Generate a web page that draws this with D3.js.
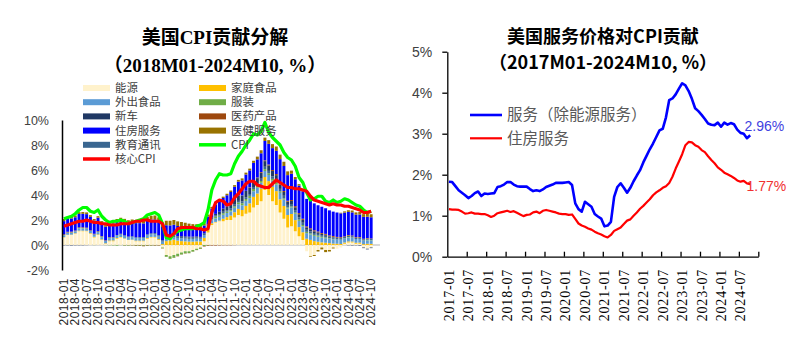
<!DOCTYPE html>
<html>
<head>
<meta charset="utf-8">
<script src="https://cdn.jsdelivr.net/npm/d3@7"></script>
<style>
  body { margin: 0; background: #fff; }
  svg { display: block; }
</style>
</head>
<body>
<svg id="chart" width="800" height="350"></svg>
<script>
// 左图：美国CPI贡献分解 2018M01-2024M10
const monthsL = [];
for (let y = 2018; y <= 2024; y++)
  for (let m = 1; m <= 12; m++)
    if (!(y === 2024 && m > 10)) monthsL.push(`${y}-${String(m).padStart(2, "0")}`);

const tickLabelsL = [
  "2018-01","2018-04","2018-07","2018-10","2019-01","2019-04","2019-07","2019-10",
  "2020-01","2020-04","2020-07","2020-10","2021-01","2021-04","2021-07","2021-10",
  "2022-01","2022-04","2022-07","2022-10","2023-01","2023-04","2023-07","2023-10",
  "2024-01","2024-04","2024-07","2024-10"
];
const yTicksL = [-2, 0, 2, 4, 6, 8, 10];

const energy = [
  0.6,0.8,0.8,0.9,1.1,1.1,1.1,0.9,0.6,0.8,0.4,0.1,
  0.3,0.3,0.5,0.6,0.5,0.4,0.4,0.3,0.3,0.3,0.5,0.6,
  0.6,0.4,-0.2,-0.8,-0.9,-0.8,-0.7,-0.6,-0.5,-0.5,-0.4,-0.3,
  -0.2,0.3,1.0,1.6,1.8,1.9,1.9,2.0,2.0,2.2,2.4,2.3,
  2.5,2.6,3.0,3.2,3.5,4.4,4.0,3.5,3.2,2.6,2.1,1.4,
  1.5,1.1,0.7,0.4,-0.5,-0.9,-0.8,-0.4,-0.2,-0.4,-0.4,-0.2,
  -0.3,-0.2,0.1,0.2,0.2,0.1,0.1,-0.2,-0.3,-0.2
];
const foodHome = [
  0.03,0.02,0.03,0.04,0.05,0.05,0.04,0.05,0.06,0.05,0.05,0.04,
  0.06,0.07,0.06,0.04,0.03,0.01,0.03,0.05,0.05,0.05,0.06,0.05,
  0.05,0.07,0.07,0.31,0.36,0.42,0.35,0.31,0.29,0.27,0.27,0.29,
  0.28,0.27,0.25,0.14,0.05,0.05,0.20,0.23,0.35,0.42,0.49,0.50,
  0.63,0.73,0.85,0.92,1.01,1.04,1.11,1.15,1.11,1.05,1.02,1.00,
  0.98,0.89,0.73,0.62,0.50,0.41,0.31,0.26,0.21,0.18,0.15,0.11,
  0.10,0.08,0.10,0.09,0.08,0.08,0.09,0.07,0.10,0.09
];
const foodAway = [
  0.15,0.16,0.16,0.16,0.17,0.17,0.17,0.17,0.17,0.18,0.18,0.18,
  0.19,0.19,0.19,0.19,0.19,0.19,0.20,0.20,0.20,0.20,0.20,0.21,
  0.21,0.21,0.20,0.19,0.18,0.20,0.22,0.22,0.22,0.22,0.22,0.22,
  0.22,0.22,0.23,0.25,0.28,0.30,0.32,0.33,0.34,0.36,0.37,0.38,
  0.40,0.42,0.45,0.46,0.47,0.48,0.49,0.50,0.52,0.52,0.51,0.52,
  0.52,0.51,0.50,0.48,0.45,0.43,0.42,0.40,0.38,0.36,0.35,0.35,
  0.34,0.33,0.32,0.31,0.30,0.30,0.29,0.28,0.27,0.26
];
const apparel = [
  0.02,0.01,0.02,0.01,0.03,0.03,0.02,0.01,-0.01,0.01,0.02,-0.01,
  -0.02,-0.03,-0.05,-0.01,-0.04,-0.04,-0.02,-0.05,-0.05,-0.06,-0.05,-0.04,
  -0.03,-0.02,-0.06,-0.14,-0.20,-0.22,-0.19,-0.16,-0.17,-0.15,-0.13,-0.10,
  -0.10,-0.08,-0.04,0.06,0.14,0.10,0.12,0.11,0.10,0.12,0.14,0.16,
  0.15,0.18,0.18,0.15,0.14,0.15,0.14,0.14,0.16,0.11,0.10,0.08,
  0.08,0.09,0.10,0.10,0.10,0.09,0.08,0.09,0.07,0.07,0.03,0.03,
  0.00,0.02,0.01,0.04,0.02,0.00,0.01,0.01,0.05,0.03
];
const newCars = [
  -0.02,-0.02,-0.03,-0.02,-0.02,-0.02,-0.01,0.00,0.01,0.01,0.01,0.01,
  0.02,0.02,0.02,0.03,0.02,0.03,0.02,0.02,0.02,0.01,0.01,0.00,
  0.00,0.01,0.01,0.01,0.00,0.02,0.03,0.06,0.07,0.07,0.08,0.08,
  0.05,0.05,0.05,0.06,0.10,0.19,0.25,0.30,0.35,0.38,0.42,0.48,
  0.50,0.50,0.48,0.45,0.48,0.45,0.44,0.43,0.40,0.35,0.30,0.25,
  0.24,0.23,0.24,0.23,0.19,0.17,0.14,0.12,0.10,0.08,0.05,0.04,
  0.03,0.02,0.00,-0.02,-0.03,-0.02,-0.04,-0.05,-0.05,-0.05
];
const medProducts = [
  0.06,0.06,0.06,0.05,0.05,0.05,0.05,0.04,0.04,0.04,0.03,0.03,
  0.03,0.02,0.00,0.00,-0.01,-0.01,-0.02,-0.03,-0.03,-0.04,-0.03,-0.02,
  -0.03,-0.03,-0.02,-0.01,-0.01,-0.01,-0.02,-0.01,-0.02,-0.01,-0.01,-0.01,
  -0.02,-0.04,-0.04,-0.04,-0.04,-0.03,-0.02,-0.02,-0.02,-0.01,0.00,0.01,
  0.02,0.04,0.05,0.05,0.06,0.06,0.07,0.08,0.09,0.08,0.08,0.08,
  0.08,0.09,0.09,0.09,0.08,0.08,0.08,0.07,0.07,0.07,0.07,0.07,
  0.06,0.06,0.05,0.05,0.05,0.05,0.05,0.04,0.04,0.04
];
const shelterL = [
  1.05,1.05,1.05,1.06,1.07,1.07,1.08,1.07,1.05,1.07,1.07,1.08,
  1.08,1.10,1.10,1.10,1.12,1.10,1.12,1.13,1.12,1.10,1.10,1.10,
  1.10,1.10,1.05,0.95,0.90,0.85,0.80,0.78,0.75,0.72,0.70,0.68,
  0.65,0.62,0.63,0.68,0.75,0.80,0.85,0.90,0.98,1.05,1.12,1.20,
  1.30,1.35,1.40,1.45,1.50,1.55,1.65,1.75,1.85,1.95,2.00,2.05,
  2.10,2.15,2.20,2.20,2.20,2.20,2.15,2.10,2.10,2.05,2.00,1.95,
  1.95,1.90,1.90,1.85,1.85,1.80,1.80,1.75,1.70,1.70
];
const medServices = [
  0.17,0.16,0.16,0.15,0.15,0.15,0.14,0.14,0.13,0.13,0.13,0.13,
  0.15,0.17,0.18,0.18,0.19,0.20,0.22,0.24,0.25,0.28,0.30,0.30,
  0.31,0.32,0.33,0.36,0.37,0.38,0.37,0.35,0.34,0.32,0.30,0.29,
  0.22,0.18,0.16,0.14,0.12,0.11,0.11,0.12,0.12,0.13,0.14,0.16,
  0.15,0.14,0.17,0.22,0.24,0.27,0.30,0.32,0.35,0.36,0.34,0.30,
  0.25,0.18,0.12,0.06,0.00,-0.05,-0.08,-0.12,-0.15,-0.17,-0.12,-0.08,
  0.00,0.05,0.10,0.13,0.15,0.18,0.20,0.22,0.22,0.24
];
const eduComm = [
  0.00,0.01,0.00,0.00,0.01,0.02,0.01,0.01,0.02,0.02,0.02,0.02,
  0.03,0.03,0.03,0.04,0.04,0.05,0.05,0.05,0.06,0.07,0.08,0.08,
  0.09,0.10,0.11,0.12,0.13,0.13,0.12,0.12,0.11,0.11,0.10,0.10,
  0.10,0.10,0.11,0.12,0.12,0.12,0.12,0.11,0.12,0.13,0.13,0.14,
  0.14,0.15,0.16,0.17,0.18,0.19,0.19,0.20,0.20,0.21,0.21,0.21,
  0.20,0.20,0.19,0.18,0.17,0.16,0.15,0.14,0.13,0.13,0.12,0.12,
  0.12,0.12,0.11,0.11,0.11,0.10,0.10,0.10,0.10,0.10
];
const cpi = [
  2.1,2.2,2.3,2.5,2.8,3.0,3.0,2.7,2.6,2.8,2.3,2.0,
  1.8,1.9,1.9,2.0,1.9,1.7,1.8,1.9,2.0,2.1,2.4,2.5,
  2.6,2.4,1.7,0.6,0.5,0.9,1.1,1.2,1.3,1.3,1.3,1.5,
  1.6,1.8,2.8,4.4,5.2,5.7,5.6,5.6,5.7,6.5,7.1,7.5,
  8.0,8.4,8.9,8.8,9.1,9.8,9.0,8.6,8.3,8.0,7.4,7.0,
  6.8,6.3,5.4,5.0,4.2,3.6,3.7,3.9,3.9,3.5,3.4,3.6,
  3.4,3.5,3.7,3.6,3.4,3.2,3.1,2.8,2.6,2.7
];
const coreCpi = [
  1.5,1.6,1.7,1.8,1.9,1.9,2.0,1.9,1.8,1.8,1.7,1.7,
  1.6,1.6,1.6,1.7,1.7,1.7,1.8,1.9,1.9,2.0,2.0,1.9,
  1.9,1.9,1.7,0.8,0.7,0.9,1.3,1.4,1.4,1.4,1.4,1.3,
  1.3,1.2,1.3,2.6,3.4,3.6,3.5,3.2,3.3,3.8,4.1,4.5,
  4.9,5.1,5.1,4.8,4.7,4.6,4.6,4.9,5.2,5.0,4.8,4.6,
  4.6,4.5,4.5,4.4,4.3,3.9,3.6,3.5,3.4,3.3,3.2,3.3,
  3.2,3.2,3.1,3.1,3.0,2.9,2.8,2.6,2.6,2.7
];

// 右图：美国服务价格对CPI贡献 2017M01-2024M10
const monthsR = [];
for (let y = 2017; y <= 2024; y++)
  for (let m = 1; m <= 12; m++) monthsR.push(`${y}-${String(m).padStart(2, "0")}`);

const tickLabelsR = [
  "2017-01","2017-07","2018-01","2018-07","2019-01","2019-07","2020-01","2020-07",
  "2021-01","2021-07","2022-01","2022-07","2023-01","2023-07","2024-01","2024-07"
];
const yTicksR = [0, 1, 2, 3, 4, 5];

const servicesExEnergy = [
  1.83,1.82,1.72,1.62,1.56,1.50,1.43,1.48,1.55,1.59,1.48,1.54,
  1.53,1.54,1.55,1.70,1.72,1.76,1.82,1.82,1.76,1.72,1.71,1.71,
  1.71,1.65,1.60,1.62,1.60,1.64,1.70,1.73,1.76,1.80,1.80,1.80,
  1.81,1.82,1.75,1.30,1.16,1.10,1.34,1.28,1.22,1.04,0.98,0.93,
  0.74,0.76,0.85,1.46,1.70,1.79,1.68,1.56,1.68,1.84,1.98,2.11,
  2.30,2.46,2.62,2.76,2.92,3.08,3.12,3.40,3.82,3.86,3.96,4.10,
  4.23,4.18,4.04,3.85,3.62,3.55,3.46,3.36,3.25,3.22,3.21,3.27,
  3.17,3.27,3.22,3.26,3.23,3.10,3.02,3.00,2.89,2.96
];
const shelterR = [
  1.16,1.15,1.15,1.14,1.10,1.05,1.06,1.08,1.05,1.05,1.04,1.04,
  1.01,0.97,1.00,1.06,1.08,1.10,1.12,1.09,1.11,1.07,1.03,0.99,
  1.02,1.03,1.08,1.10,1.06,1.12,1.14,1.12,1.10,1.08,1.05,1.04,
  1.04,1.02,1.03,0.92,0.81,0.76,0.73,0.69,0.66,0.61,0.57,0.54,
  0.50,0.47,0.53,0.63,0.67,0.71,0.80,0.88,0.91,1.00,1.08,1.17,
  1.24,1.32,1.40,1.50,1.57,1.62,1.68,1.72,1.80,1.95,2.15,2.32,
  2.50,2.72,2.80,2.79,2.72,2.68,2.60,2.55,2.45,2.36,2.28,2.18,
  2.12,2.05,2.01,1.97,1.92,1.86,1.83,1.85,1.79,1.77
];

const svg = d3.select("#chart");
svg.append("rect").attr("width", 800).attr("height", 350).attr("fill", "#fff");

const cjkSans  = "'Noto Sans CJK SC', 'Liberation Sans', sans-serif";
const cjkSerif = "'Liberation Serif', 'Noto Sans CJK SC', serif";

// ---------- 左图 ----------
const series = [
  { key: "能源",     values: energy,      color: "#FFF2CC" },
  { key: "家庭食品", values: foodHome,    color: "#FFC000" },
  { key: "外出食品", values: foodAway,    color: "#5B9BD5" },
  { key: "服装",     values: apparel,     color: "#70AD47" },
  { key: "教育通讯", values: eduComm,     color: "#3A6690" },
  { key: "新车",     values: newCars,     color: "#203864" },
  { key: "医药产品", values: medProducts, color: "#9E480E" },
  { key: "住房服务", values: shelterL,    color: "#0000FF" },
  { key: "医健服务", values: medServices, color: "#997300" }
];
const colorOf = Object.fromEntries(series.map(s => [s.key, s.color]));

const table = monthsL.map((m, i) => {
  const row = { month: m };
  series.forEach(s => row[s.key] = s.values[i]);
  return row;
});

const stacked = d3.stack()
  .keys(series.map(s => s.key))
  .offset(d3.stackOffsetDiverging)(table);

const xL = d3.scaleBand().domain(monthsL).range([62, 373]).paddingInner(0.22).paddingOuter(0.1);
const yL = d3.scaleLinear().domain([-2, 10]).range([270, 120]);

const gL = svg.append("g");

// 零线
gL.append("line")
  .attr("x1", 62).attr("x2", 380)
  .attr("y1", yL(0)).attr("y2", yL(0))
  .attr("stroke", "#D9D9D9").attr("stroke-width", 2);

gL.selectAll("g.layer")
  .data(stacked)
  .join("g")
  .attr("class", "layer")
  .attr("fill", d => colorOf[d.key])
  .selectAll("rect")
  .data(d => d)
  .join("rect")
  .attr("x", d => xL(d.data.month))
  .attr("width", xL.bandwidth())
  .attr("y", d => yL(Math.max(d[0], d[1])))
  .attr("height", d => Math.abs(yL(d[0]) - yL(d[1])));

const lineL = d3.line()
  .x((d, i) => xL(monthsL[i]) + xL.bandwidth() / 2)
  .y(d => yL(d));

gL.append("path").datum(cpi)
  .attr("d", lineL).attr("fill", "none")
  .attr("stroke", "#00FF00").attr("stroke-width", 3.2)
  .attr("stroke-linejoin", "round");
gL.append("path").datum(coreCpi)
  .attr("d", lineL).attr("fill", "none")
  .attr("stroke", "#FF0000").attr("stroke-width", 3.2)
  .attr("stroke-linejoin", "round");

const axL = gL.append("g")
  .attr("transform", "translate(62,0)")
  .call(d3.axisLeft(yL).tickValues(yTicksL).tickSize(0).tickPadding(13)
    .tickFormat(d => d + "%"));
axL.select(".domain").attr("stroke", "#000").attr("stroke-width", 1.5);
axL.selectAll("text")
  .attr("font-family", "'Liberation Sans', Arial, sans-serif")
  .attr("font-size", 12.5).attr("fill", "#404040");

gL.selectAll("text.xl")
  .data(tickLabelsL)
  .join("text")
  .attr("class", "xl")
  .attr("transform", d => `translate(${xL(d) + xL.bandwidth() / 2},278) rotate(-90)`)
  .attr("text-anchor", "end")
  .attr("dy", "0.35em")
  .attr("font-family", "'Liberation Sans', Arial, sans-serif")
  .attr("font-size", 12).attr("letter-spacing", 0.5)
  .attr("fill", "#262626")
  .text(d => d);

// 图例
const legendL = [
  { key: "能源", type: "rect" },     { key: "家庭食品", type: "rect" },
  { key: "外出食品", type: "rect" }, { key: "服装", type: "rect" },
  { key: "新车", type: "rect" },     { key: "医药产品", type: "rect" },
  { key: "住房服务", type: "rect" }, { key: "医健服务", type: "rect" },
  { key: "教育通讯", type: "rect" }, { key: "CPI", type: "line", color: "#00FF00" },
  { key: "核心CPI", type: "line", color: "#FF0000" }
];
const lg = gL.selectAll("g.lg")
  .data(legendL)
  .join("g")
  .attr("class", "lg")
  .attr("transform", (d, i) => `translate(${i % 2 ? 199 : 83},${88 + Math.floor(i / 2) * 14.2})`);
lg.filter(d => d.type === "rect").append("rect")
  .attr("x", 0).attr("y", -3).attr("width", 27).attr("height", 6)
  .attr("fill", d => colorOf[d.key]);
lg.filter(d => d.type === "line").append("line")
  .attr("x1", 0).attr("x2", 27)
  .attr("stroke", d => d.color).attr("stroke-width", 3.5);
lg.append("text")
  .attr("x", 32).attr("dy", "0.35em")
  .attr("font-family", cjkSans).attr("font-size", 11.4).attr("fill", "#404040")
  .text(d => d.key);

gL.append("text")
  .attr("x", 215).attr("y", 37).attr("dy", "0.35em").attr("text-anchor", "middle")
  .attr("font-family", cjkSerif).attr("font-weight", "bold").attr("font-size", 19)
  .attr("fill", "#000").text("美国CPI贡献分解");
gL.append("text")
  .attr("x", 215).attr("y", 65).attr("dy", "0.35em").attr("text-anchor", "middle")
  .attr("font-family", cjkSerif).attr("font-weight", "bold").attr("font-size", 19)
  .attr("fill", "#000").text("（2018M01-2024M10, %）");

// ---------- 右图 ----------
const xR = d3.scaleBand().domain(monthsR).range([447.3, 758.3]);
const yR = d3.scaleLinear().domain([0, 5]).range([256.7, 51.7]);
const xTickR = d3.scaleLinear().domain([0, monthsR.length]).range([447.3, 758.3]);

const gR = svg.append("g");

const lineR = d3.line()
  .x((d, i) => xR(monthsR[i]) + xR.bandwidth() / 2)
  .y(d => yR(d));

gR.append("path").datum(shelterR)
  .attr("d", lineR).attr("fill", "none")
  .attr("stroke", "#FF0000").attr("stroke-width", 2.2)
  .attr("stroke-linejoin", "round");
gR.append("path").datum(servicesExEnergy)
  .attr("d", lineR).attr("fill", "none")
  .attr("stroke", "#0000FF").attr("stroke-width", 2.6)
  .attr("stroke-linejoin", "round");

const ayR = gR.append("g")
  .attr("transform", "translate(447.3,0)")
  .call(d3.axisLeft(yR).tickValues(yTicksR).tickSize(5).tickSizeOuter(0).tickPadding(10)
    .tickFormat(d => d + "%"));
ayR.selectAll("path, line").attr("stroke", "#000").attr("stroke-width", 1.3);
ayR.selectAll("text")
  .attr("font-family", "'Liberation Sans', Arial, sans-serif")
  .attr("font-size", 14).attr("fill", "#404040");

const axR = gR.append("g")
  .attr("transform", "translate(0,256.7)")
  .call(d3.axisBottom(xTickR).tickValues(d3.range(6, monthsR.length + 1, 6))
    .tickSize(-5).tickSizeOuter(0).tickFormat(""));
axR.selectAll("path, line").attr("stroke", "#000").attr("stroke-width", 1.3);

gR.selectAll("text.xr")
  .data(tickLabelsR)
  .join("text")
  .attr("class", "xr")
  .attr("transform", d => `translate(${xR(d) + xR.bandwidth() / 2},269) rotate(-90)`)
  .attr("text-anchor", "end")
  .attr("dy", "0.35em")
  .attr("font-family", "'Liberation Serif', 'Times New Roman', serif")
  .attr("font-size", 14).attr("letter-spacing", 0.8)
  .attr("fill", "#000")
  .text(d => d);

// 图例
const legendR = [
  { name: "服务（除能源服务）", color: "#0000FF", w: 2.6 },
  { name: "住房服务", color: "#FF0000", w: 2.2 }
];
const lgR = gR.selectAll("g.lgr")
  .data(legendR)
  .join("g")
  .attr("class", "lgr")
  .attr("transform", (d, i) => `translate(470,${115 + i * 23.3})`);
lgR.append("line").attr("x1", 0).attr("x2", 32)
  .attr("stroke", d => d.color).attr("stroke-width", d => d.w);
lgR.append("text")
  .attr("x", 37).attr("dy", "0.35em")
  .attr("font-family", cjkSans).attr("font-size", 15.5).attr("fill", "#595959")
  .text(d => d.name);

// 末值标注
const lastIdx = servicesExEnergy.length - 1;
gR.append("text")
  .attr("x", xR(monthsR[lastIdx]) - 4).attr("y", yR(servicesExEnergy[lastIdx]) - 9)
  .attr("dy", "0.35em")
  .attr("font-family", "'Liberation Sans', Arial, sans-serif").attr("font-size", 14)
  .attr("fill", "#3F3FE0")
  .text(servicesExEnergy[lastIdx].toFixed(2) + "%");
gR.append("text")
  .attr("x", xR(monthsR[lastIdx]) - 2).attr("y", yR(shelterR[lastIdx]) + 2)
  .attr("dy", "0.35em")
  .attr("font-family", "'Liberation Sans', Arial, sans-serif").attr("font-size", 14)
  .attr("fill", "#F03030")
  .text(shelterR[lastIdx].toFixed(2) + "%");

gR.append("text")
  .attr("x", 603).attr("y", 37).attr("dy", "0.35em").attr("text-anchor", "middle")
  .attr("font-family", cjkSans).attr("font-weight", "bold").attr("font-size", 18)
  .attr("fill", "#000").text("美国服务价格对CPI贡献");
gR.append("text")
  .attr("x", 603).attr("y", 63).attr("dy", "0.35em").attr("text-anchor", "middle")
  .attr("font-family", cjkSans).attr("font-weight", "bold").attr("font-size", 18)
  .attr("fill", "#000").text("（2017M01-2024M10, %）");
</script>
</body>
</html>
